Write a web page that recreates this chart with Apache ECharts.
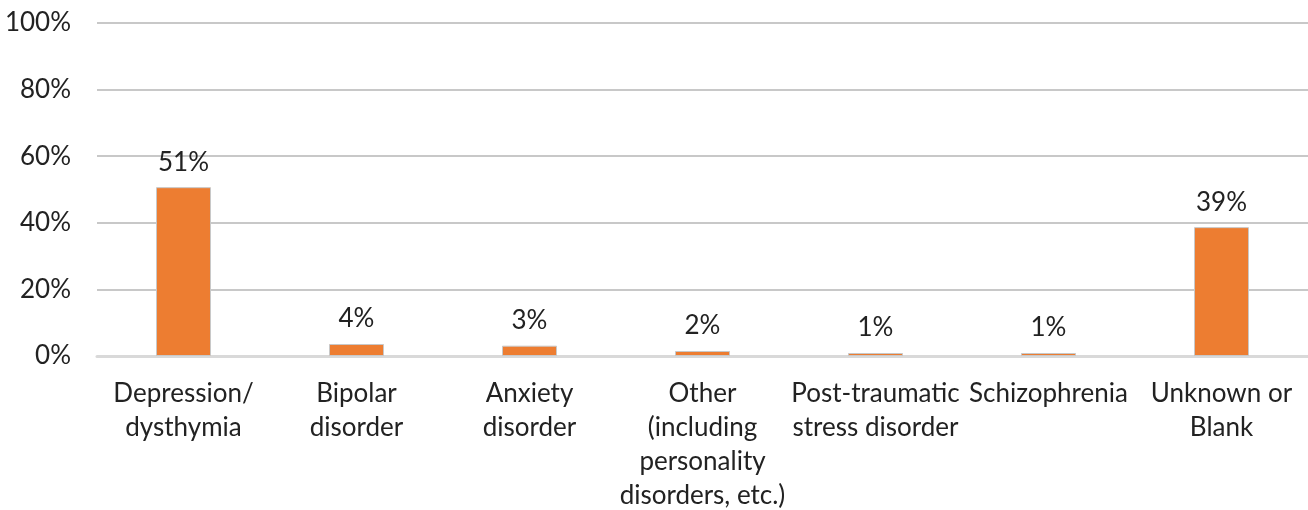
<!DOCTYPE html>
<html>
<head>
<meta charset="utf-8">
<script src="https://cdn.jsdelivr.net/npm/echarts@6/dist/echarts.min.js"></script>
<style>
html,body{margin:0;padding:0;background:#fff;}
#chart{width:1308px;height:510px;}
</style>
</head>
<body>
<div id="chart"></div>
<script>
const categories = [
  "Depression/\ndysthymia",
  "Bipolar\ndisorder",
  "Anxiety\ndisorder",
  "Other\n(including\npersonality\ndisorders, etc.)",
  "Post-traumatic\nstress disorder",
  "Schizophrenia",
  "Unknown or\nBlank"
];
const values = [50.7, 3.6, 3.1, 1.5, 0.9, 0.9, 38.7];
const valueLabels = ["51%", "4%", "3%", "2%", "1%", "1%", "39%"];
const yTicks = [0, 20, 40, 60, 80, 100];

const FONT = "Lato";
const chart = echarts.init(document.getElementById('chart'), null, {renderer: 'canvas'});
chart.setOption({
  animation: false,
  grid: {left: 97, right: 0, top: 23, bottom: 154, containLabel: false, outerBoundsMode: 'none'},
  xAxis: {
    type: 'category',
    data: categories,
    axisLine: {show: true, lineStyle: {color: '#d9d9d9', width: 3}},
    axisTick: {show: false},
    axisLabel: {
      interval: 0, color: '#222', fontFamily: FONT, fontSize: 26,
      lineHeight: 34, margin: 21
    }
  },
  yAxis: {
    type: 'value', min: 0, max: 100, interval: 20,
    axisLine: {show: false}, axisTick: {show: false},
    splitLine: {lineStyle: {color: '#c8c8c8', width: 2}},
    axisLabel: {
      color: '#222', fontFamily: FONT, fontSize: 26, margin: 26,
      formatter: v => yTicks.includes(v) ? v + '%' : ''
    }
  },
  series: [{
    type: 'bar',
    data: values,
    barWidth: 55,
    itemStyle: {color: '#ED7D31', borderColor: '#c8c8c8', borderWidth: 1},
    label: {
      show: true, position: 'top', distance: 12,
      color: '#222', fontFamily: FONT, fontSize: 26,
      formatter: p => valueLabels[p.dataIndex]
    }
  }]
});
</script>
</body>
</html>
